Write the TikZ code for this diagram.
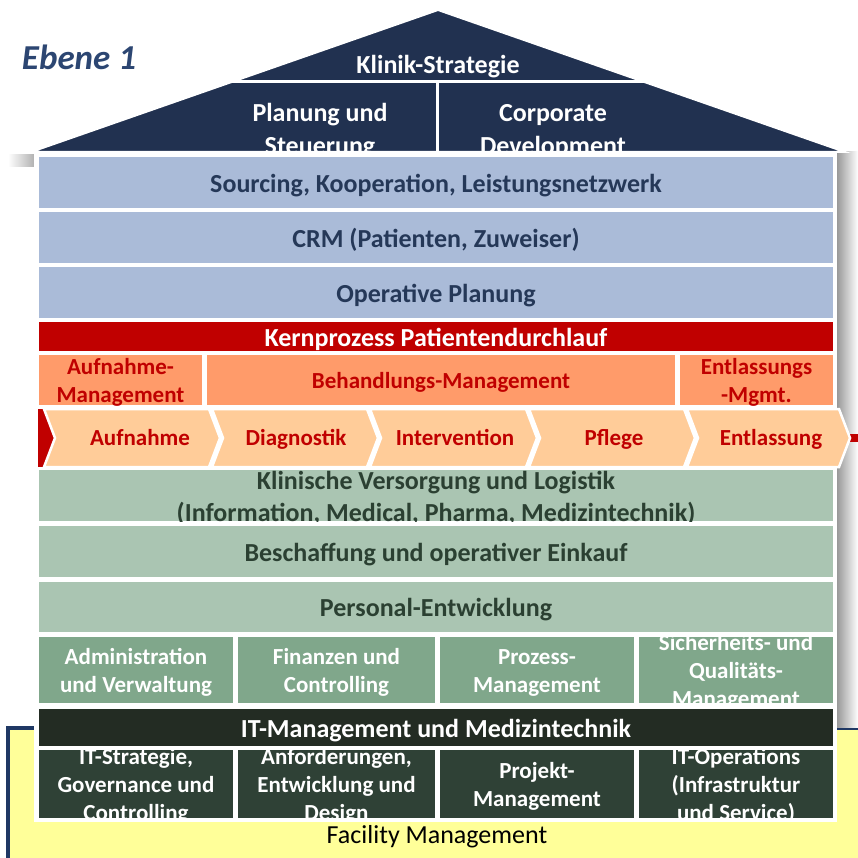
\documentclass[tikz,border=0pt]{standalone}
\usepackage{fontspec}
\setmainfont{Carlito}
\definecolor{navy}{HTML}{213150}
\definecolor{ebene}{HTML}{2C4672}
\definecolor{lblue}{HTML}{AABBD8}
\definecolor{bluetxt}{HTML}{253858}
\definecolor{kred}{HTML}{C00000}
\definecolor{orange}{HTML}{FF9B6A}
\definecolor{peach}{HTML}{FFCC99}
\definecolor{lgreen}{HTML}{AAC5B2}
\definecolor{greentxt}{HTML}{2B4032}
\definecolor{mgreen}{HTML}{80A78B}
\definecolor{itbar}{HTML}{232C23}
\definecolor{dgreen}{HTML}{2F4136}
\definecolor{fmyellow}{HTML}{FFFF99}
\definecolor{fmborder}{HTML}{1F3864}
\tikzset{
  lbl/.style={align=center, inner sep=0pt},
  big/.style={lbl, font=\bfseries\fontsize{26}{32}\selectfont, yshift=-3.5pt},
  small/.style={lbl, font=\bfseries\fontsize{23}{28}\selectfont, yshift=-2.4pt},
  rooftxt/.style={lbl, font=\bfseries\fontsize{26}{33}\selectfont, text=white},
  chevst/.style={draw=white, line width=2.5pt, fill=peach, line join=miter},
}
\newcommand\mybox[8]{%
  \fill[#6] (#2,#3) rectangle (#4,#5);
  \begin{scope}
    \clip (#2,#3) rectangle (#4,#5);
    \node[#7] (#1) at ({(#2+#4)/2},{(#3+#5)/2}) {\strut #8\strut};
  \end{scope}}
\newcommand\chev[5]{%
  \draw[chevst] (#2,409) -- (#3,409) -- ({#3+11},438) -- (#3,467) -- (#2,467) -- ({#2+11},438) -- cycle;
  \node[small,text=kred,yshift=1pt] (#1) at (#4,438) {\strut #5\strut};}
\begin{document}
\begin{tikzpicture}[x=1pt,y=-1pt]
\useasboundingbox (0,0) rectangle (858,858);
\clip (0,0) rectangle (858,858);
% facility management
\draw[line width=4pt, draw=fmborder, fill=fmyellow] (8,728) rectangle (900,900);
\node[font=\fontsize{26}{31}\selectfont, inner sep=0pt, anchor=base] (fm) at (437,843) {Facility Management};
% panel shadow
\shade[left color=black!40, right color=white] (837,152) rectangle (858,727);
\shade[left color=white, right color=black!30] (8,155) rectangle (34,167);
\fill[white] (34,153) rectangle (837,822);
% bars
\mybox{sourcing}{39}{157}{833}{208}{lblue}{big,text=bluetxt}{Sourcing, Kooperation, Leistungsnetzwerk}
\mybox{crm}{39}{212}{833}{263}{lblue}{big,text=bluetxt}{CRM (Patienten, Zuweiser)}
\mybox{opplan}{39}{267}{833}{318}{lblue}{big,text=bluetxt}{Operative Planung}
\mybox{kern}{39}{322}{833}{351}{kred}{big,text=white}{Kernprozess Patientendurchlauf}
\mybox{aufmg}{39}{355}{202}{405}{orange}{small,text=kred}{Aufnahme-\\Management}
\mybox{behmg}{207}{355}{675}{405}{orange}{small,text=kred}{Behandlungs-Management}
\mybox{entmg}{680}{355}{833}{405}{orange}{small,text=kred}{Entlassungs\\-Mgmt.}
% chevron row
\fill[kred] (38,409) rectangle (60,467);
\fill[kred] (820,434) rectangle (858,442);
\chev{aufn}{44}{209}{140}{Aufnahme}
\chev{diag}{212}{367}{296}{Diagnostik}
\chev{interv}{370}{526}{455}{Intervention}
\chev{pflege}{529}{684}{614}{Pflege}
\chev{entl}{687}{839}{771}{Entlassung}
% green bars
\mybox{klin}{39}{470}{833}{521}{lgreen}{big,text=greentxt}{Klinische Versorgung und Logistik\\(Information, Medical, Pharma, Medizintechnik)}
\mybox{besch}{39}{526}{833}{577}{lgreen}{big,text=greentxt}{Beschaffung und operativer Einkauf}
\mybox{pers}{39}{582}{833}{632}{lgreen}{big,text=greentxt}{Personal-Entwicklung}
\mybox{admin}{39}{637}{233}{703}{mgreen}{small,text=white}{Administration\\und Verwaltung}
\mybox{finanz}{238}{637}{435}{703}{mgreen}{small,text=white}{Finanzen und\\Controlling}
\mybox{prozess}{440}{637}{634}{703}{mgreen}{small,text=white}{Prozess-\\Management}
\mybox{sicher}{639}{637}{833}{703}{mgreen}{small,text=white}{Sicherheits- und\\Qualitäts-\\Management}
\mybox{itm}{39}{709}{833}{746}{itbar}{big,text=white}{IT-Management und Medizintechnik}
\mybox{itstrat}{39}{750}{233}{818}{dgreen}{small,text=white}{IT-Strategie,\\Governance und\\Controlling}
\mybox{anford}{238}{750}{435}{818}{dgreen}{small,text=white}{Anforderungen,\\Entwicklung und\\Design}
\mybox{projekt}{440}{750}{634}{818}{dgreen}{small,text=white}{Projekt-\\Management}
\mybox{itops}{639}{750}{833}{818}{dgreen}{small,text=white}{IT-Operations\\(Infrastruktur\\und Service)}
% roof
\draw[white, line width=2pt, fill=navy] (438,10) -- (845,152) -- (31,152) -- cycle;
\begin{scope}
  \clip (438,10) -- (845,152) -- (31,152) -- cycle;
  \draw[white, line width=3pt] (0,82) -- (858,82);
  \draw[white, line width=3pt] (437,82) -- (437,160);
  \node[rooftxt] (strat) at (438,66.7) {\strut Klinik-Strategie\strut};
  \node[rooftxt] (plan) at (320,131.6) {\strut Planung und\\Steuerung\strut};
  \node[rooftxt] (corp) at (553,131.6) {\strut Corporate\\Development\strut};
\end{scope}
\node[font=\bfseries\itshape\fontsize{35}{40}\selectfont, text=ebene, inner sep=0pt, anchor=base] (ebene) at (79,70) {Ebene 1};
\end{tikzpicture}
\end{document}
